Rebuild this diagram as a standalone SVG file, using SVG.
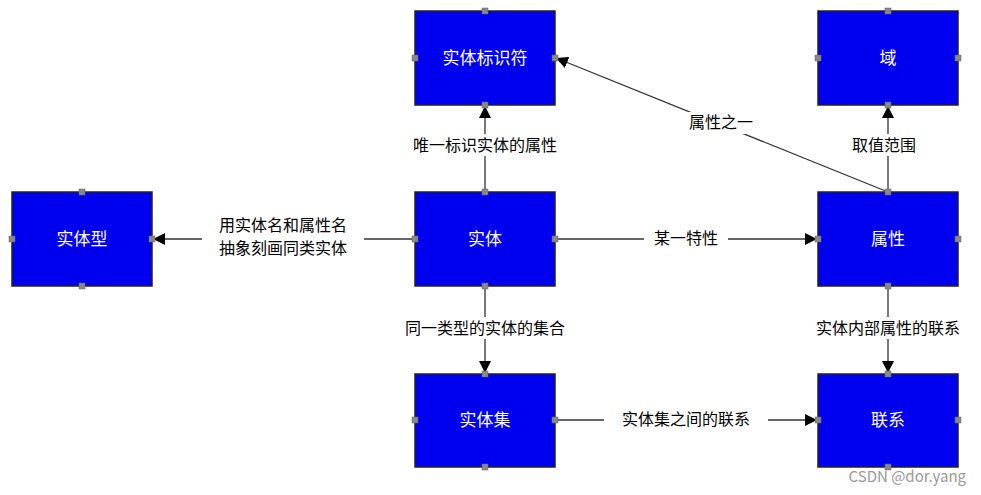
<svg xmlns="http://www.w3.org/2000/svg" width="981" height="495" viewBox="0 0 981 495">
<style>
.box{fill:#0000f0;stroke:#222;stroke-width:1.5}
.h{fill:#888;stroke:#666;stroke-width:0.5}
.nt{font-family:"Noto Sans CJK SC",sans-serif;font-size:17px;fill:#fff;text-anchor:middle}
.lt{font-family:"Noto Sans CJK SC",sans-serif;font-size:16px;fill:#000;text-anchor:middle}
.bg{fill:#fff}
line{stroke:#333;stroke-width:1.3;marker-end:url(#a)}
</style>
<defs>
<marker id="a" viewBox="0 0 10 10" refX="10" refY="5" markerWidth="12" markerHeight="12" markerUnits="userSpaceOnUse" orient="auto"><path d="M0,0L10,5L0,10z" fill="#000"/></marker>
<g id="hs"><rect x="-3" y="-3" width="6" height="6" class="h"/></g>
</defs>
<rect width="981" height="495" fill="#fff"/>
<g id="connectors">
<line x1="485" y1="192" x2="485" y2="106"/>
<rect class="bg" x="393" y="134" width="184" height="22"/>
<text class="lt" x="485" y="151">唯一标识实体的属性</text>
<line x1="888" y1="192" x2="888" y2="106"/>
<line x1="888" y1="192" x2="556" y2="58"/>
<rect class="bg" x="842" y="134" width="84" height="22"/>
<text class="lt" x="884" y="151">取值范围</text>
<rect class="bg" x="680" y="112" width="84" height="22"/>
<text class="lt" x="721" y="128">属性之一</text>
<line x1="415" y1="239" x2="153" y2="239"/>
<rect class="bg" x="202" y="215" width="162" height="46"/>
<text class="lt" x="283" y="231">用实体名和属性名</text>
<text class="lt" x="283" y="254">抽象刻画同类实体</text>
<line x1="555" y1="239" x2="817" y2="239"/>
<rect class="bg" x="644" y="228" width="84" height="22"/>
<text class="lt" x="686" y="244">某一特性</text>
<line x1="485" y1="286" x2="485" y2="373"/>
<rect class="bg" x="385" y="317" width="200" height="22"/>
<text class="lt" x="485" y="334">同一类型的实体的集合</text>
<line x1="888" y1="286" x2="888" y2="373"/>
<rect class="bg" x="796" y="317" width="184" height="22"/>
<text class="lt" x="888" y="334">实体内部属性的联系</text>
<line x1="555" y1="420" x2="817" y2="420"/>
<rect class="bg" x="604" y="409" width="164" height="22"/>
<text class="lt" x="686" y="425">实体集之间的联系</text>
</g>
<g id="n1"><rect class="box" x="415" y="11" width="140" height="94"/><text class="nt" x="485" y="64">实体标识符</text></g>
<g id="n2"><rect class="box" x="818" y="11" width="140" height="94"/><text class="nt" x="888" y="64">域</text></g>
<g id="n3"><rect class="box" x="12" y="192" width="140" height="94"/><text class="nt" x="82" y="245">实体型</text></g>
<g id="n4"><rect class="box" x="415" y="192" width="140" height="94"/><text class="nt" x="485" y="245">实体</text></g>
<g id="n5"><rect class="box" x="818" y="192" width="140" height="94"/><text class="nt" x="888" y="245">属性</text></g>
<g id="n6"><rect class="box" x="415" y="374" width="140" height="93"/><text class="nt" x="485" y="426">实体集</text></g>
<g id="n7"><rect class="box" x="818" y="374" width="140" height="93"/><text class="nt" x="888" y="426">联系</text></g>
<g id="handles">
<use href="#hs" x="485" y="11"/><use href="#hs" x="415" y="58"/><use href="#hs" x="555" y="58"/><use href="#hs" x="485" y="105"/>
<use href="#hs" x="888" y="11"/><use href="#hs" x="818" y="58"/><use href="#hs" x="958" y="58"/><use href="#hs" x="888" y="105"/>
<use href="#hs" x="82" y="192"/><use href="#hs" x="12" y="239"/><use href="#hs" x="152" y="239"/><use href="#hs" x="82" y="286"/>
<use href="#hs" x="485" y="192"/><use href="#hs" x="415" y="239"/><use href="#hs" x="555" y="239"/><use href="#hs" x="485" y="286"/>
<use href="#hs" x="888" y="192"/><use href="#hs" x="818" y="239"/><use href="#hs" x="958" y="239"/><use href="#hs" x="888" y="286"/>
<use href="#hs" x="485" y="374"/><use href="#hs" x="415" y="420"/><use href="#hs" x="555" y="420"/><use href="#hs" x="485" y="467"/>
<use href="#hs" x="888" y="374"/><use href="#hs" x="818" y="420"/><use href="#hs" x="958" y="420"/><use href="#hs" x="888" y="467"/>
</g>
<text x="966" y="482" font-family="Noto Sans CJK SC,sans-serif" font-size="15" fill="#999" text-anchor="end">CSDN @dor.yang</text>
</svg>
